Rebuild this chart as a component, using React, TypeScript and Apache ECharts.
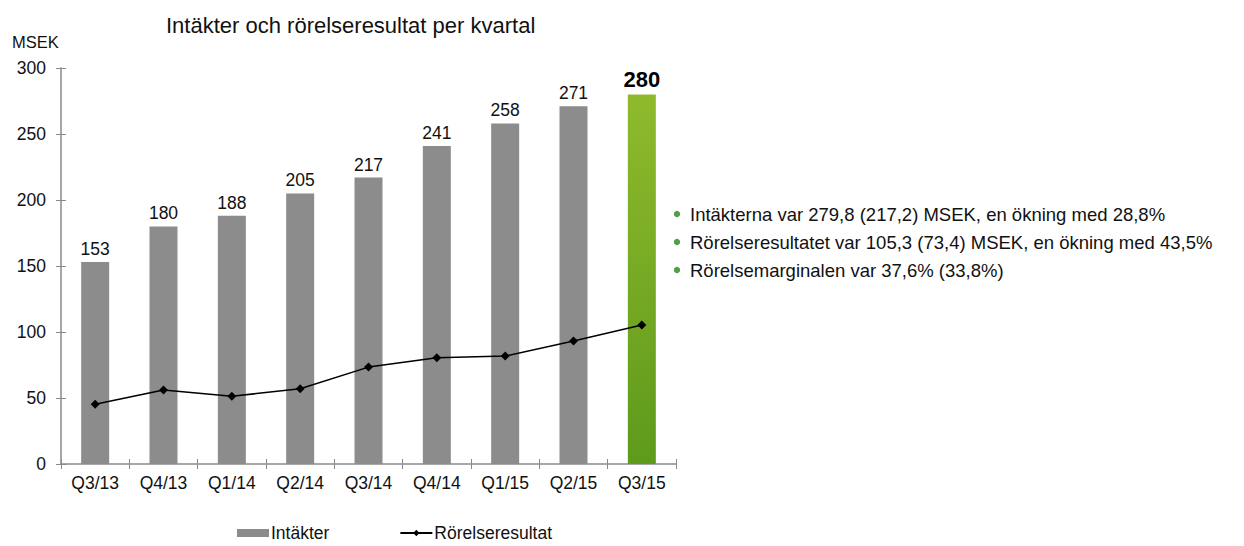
import React, { useEffect, useRef } from "react";
import * as echarts from "echarts";

const categories = ["Q3/13", "Q4/13", "Q1/14", "Q2/14", "Q3/14", "Q4/14", "Q1/15", "Q2/15", "Q3/15"];
const revenue = [153, 180, 188, 205, 217, 241, 258, 271, 280];
const operatingResult = [45.2, 56, 51.3, 57, 73.4, 80.5, 81.8, 93.2, 105.3];
const yTicks = [0, 50, 100, 150, 200, 250, 300];
const bullets = [
  "Intäkterna var 279,8 (217,2) MSEK, en ökning med 28,8%",
  "Rörelseresultatet var 105,3 (73,4) MSEK, en ökning med 43,5%",
  "Rörelsemarginalen var 37,6% (33,8%)",
];

const FONT = "Liberation Sans, Arial, sans-serif";
const AXIS_COLOR = "#8a8a8a";

export default function App() {
  const ref = useRef<HTMLDivElement>(null);
  useEffect(() => {
    if (!ref.current) return;
    const chart = echarts.init(ref.current, null, { renderer: "svg" });
    const last = revenue.length - 1;
    chart.setOption({
      animation: false,
      textStyle: { fontFamily: FONT },
      title: {
        text: "Intäkter och rörelseresultat per kvartal",
        left: 161,
        top: 9,
        textStyle: { fontFamily: FONT, fontSize: 22, fontWeight: "normal", color: "#111" },
      },
      legend: {
        top: 519,
        left: 232,
        itemGap: 70,
        itemWidth: 32,
        itemHeight: 8,
        padding: [5, 5, 0, 5],
        textStyle: { fontFamily: FONT, fontSize: 17.5, color: "#111", padding: [0, 0, 0, -3] },
        data: [
          { name: "Intäkter", icon: "rect", itemStyle: { color: "#8c8c8c" } },
          { name: "Rörelseresultat" },
        ],
      },
      grid: { left: 61, right: 568, top: 68, bottom: 82 },
      xAxis: [
        {
          type: "category",
          data: categories,
          axisLine: { lineStyle: { color: AXIS_COLOR, width: 1.5 } },
          axisTick: { show: true, length: 5, lineStyle: { color: AXIS_COLOR } },
          axisLabel: { fontFamily: FONT, fontSize: 17.5, color: "#111", margin: 10 },
        },
        {
          type: "category",
          data: categories,
          position: "bottom",
          axisLine: { show: false },
          axisTick: { show: true, inside: true, length: 5, lineStyle: { color: AXIS_COLOR } },
          axisLabel: { show: false },
        },
      ],
      yAxis: [
        {
          type: "value",
          min: 0,
          max: 300,
          interval: 50,
          splitLine: { show: false },
          axisLine: { show: true, lineStyle: { color: AXIS_COLOR, width: 1.5 } },
          axisTick: { show: true, length: 5, lineStyle: { color: AXIS_COLOR } },
          axisLabel: {
            fontFamily: FONT,
            fontSize: 17.5,
            color: "#111",
            margin: 15,
            formatter: (v: number) => (yTicks.includes(v) ? String(v) : ""),
          },
        },
        {
          type: "value",
          min: 0,
          max: 300,
          interval: 50,
          position: "left",
          splitLine: { show: false },
          axisLine: { show: false },
          axisTick: { show: true, inside: true, length: 5, lineStyle: { color: AXIS_COLOR } },
          axisLabel: { show: false },
        },
      ],
      series: [
        {
          name: "Intäkter",
          type: "bar",
          barWidth: 28,
          data: revenue.map((v, i) =>
            i === last
              ? {
                  value: v,
                  itemStyle: {
                    color: new echarts.graphic.LinearGradient(0, 0, 0, 1, [
                      { offset: 0, color: "#8fba2c" },
                      { offset: 1, color: "#5e9a1c" },
                    ]),
                  },
                  label: { fontSize: 22, fontWeight: "bold", color: "#000" },
                }
              : v
          ),
          itemStyle: { color: "#8c8c8c" },
          label: {
            show: true,
            position: "top",
            distance: 4,
            fontFamily: FONT,
            fontSize: 17.5,
            color: "#111",
          },
        },
        {
          name: "Rörelseresultat",
          type: "line",
          data: operatingResult,
          symbol: "diamond",
          symbolSize: 9,
          lineStyle: { color: "#000", width: 1.5 },
          itemStyle: { color: "#000" },
        },
      ],
      graphic: [
        {
          type: "text",
          x: 12,
          y: 42,
          style: {
            text: "MSEK",
            fontFamily: FONT,
            fontSize: 16.5,
            fill: "#111",
            verticalAlign: "middle",
          },
        },
        ...bullets.flatMap((t, i) => [
          {
            type: "circle",
            shape: { cx: 677, cy: 214 + i * 28, r: 3.2 },
            style: { fill: "#4fa046" },
          },
          {
            type: "text",
            x: 690,
            y: 214 + i * 28,
            style: {
              text: t,
              fontFamily: FONT,
              fontSize: 18.5,
              fill: "#111",
              verticalAlign: "middle",
            },
          },
        ]),
      ],
    });
    return () => chart.dispose();
  }, []);
  return (
    <div
      ref={ref}
      style={{ position: "absolute", left: 0, top: 0, width: 1244, height: 546 }}
    />
  );
}
